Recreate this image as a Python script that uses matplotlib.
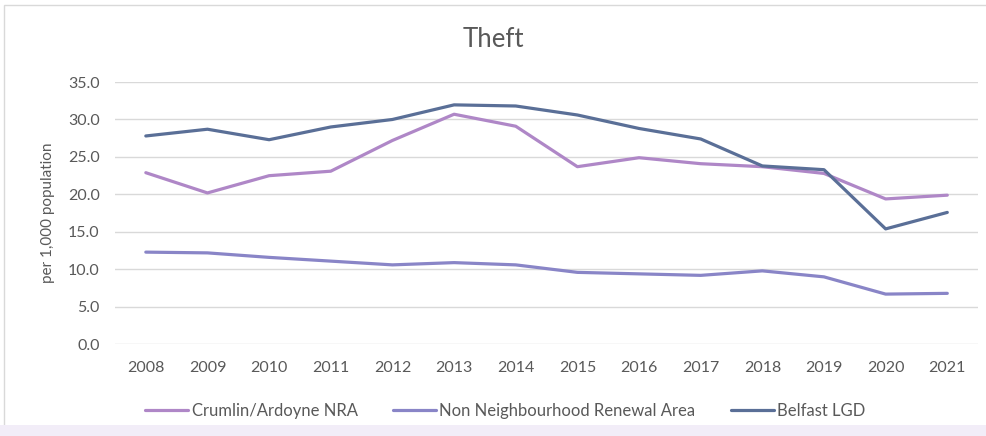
import matplotlib
matplotlib.use("Agg")
import matplotlib.pyplot as plt
from matplotlib.patches import Rectangle

# --- DATA ---
years = [2008, 2009, 2010, 2011, 2012, 2013, 2014, 2015, 2016, 2017, 2018, 2019, 2020, 2021]
crumlin = [22.9, 20.2, 22.5, 23.1, 27.2, 30.7, 29.1, 23.7, 24.9, 24.1, 23.7, 22.8, 19.4, 19.9]
non_nra = [12.3, 12.2, 11.6, 11.1, 10.6, 10.9, 10.6, 9.6, 9.4, 9.2, 9.8, 9.0, 6.7, 6.8]
belfast = [27.8, 28.7, 27.3, 29.0, 30.0, 31.95, 31.8, 30.6, 28.8, 27.4, 23.8, 23.3, 15.4, 17.6]
series_names = ["Crumlin/Ardoyne NRA", "Non Neighbourhood Renewal Area", "Belfast LGD"]
y_ticks = [0, 5, 10, 15, 20, 25, 30, 35]

colors = ["#AF87C7", "#8985C7", "#5A6F97"]
text_color = "#595959"

plt.rcParams['font.family'] = ['Lato', 'DejaVu Sans']

fig = plt.figure(figsize=(9.87, 4.36), dpi=100)
ax = fig.add_axes([0.1165, 0.2103, 0.8745, 0.6016])

# chart border and faint band at the bottom
fig.patches.append(Rectangle((0.004, 0.0), 0.996, 0.988, transform=fig.transFigure,
                             fill=False, edgecolor="#D9D9D9", linewidth=1.0))
fig.patches.append(Rectangle((0.0, 0.0), 1.0, 0.025, transform=fig.transFigure,
                             facecolor="#F2EDF8", edgecolor="none"))

x = list(range(len(years)))
for vals, name, c in zip([crumlin, non_nra, belfast], series_names, colors):
    ax.plot(x, vals, color=c, linewidth=2.3, label=name, solid_capstyle="round")

ax.set_xlim(-0.5, len(years) - 0.5)
ax.set_ylim(0, 35)
ax.set_yticks(y_ticks)
ax.set_yticklabels([f"{v:.1f}" for v in y_ticks])
ax.set_xticks(x)
ax.set_xticklabels([str(y) for y in years])

ax.grid(axis="y", color="#D9D9D9", linewidth=1.0)
ax.set_axisbelow(True)
for s in ax.spines.values():
    s.set_visible(False)
ax.tick_params(axis="both", length=0, labelsize=11.5, colors=text_color)
ax.tick_params(axis="x", pad=12)
ax.tick_params(axis="y", pad=11)

ax.set_ylabel("per 1,000 population", fontsize=11, color=text_color, labelpad=9)
fig.text(0.5, 0.91, "Theft", ha="center", va="center", fontsize=18.5, color=text_color)

fig.legend(loc="center", bbox_to_anchor=(0.512, 0.058), ncol=3, frameon=False,
           fontsize=12, handlelength=2.6, handletextpad=0.2, columnspacing=2.1,
           labelcolor=text_color)

fig.savefig("out.png", dpi=100)
